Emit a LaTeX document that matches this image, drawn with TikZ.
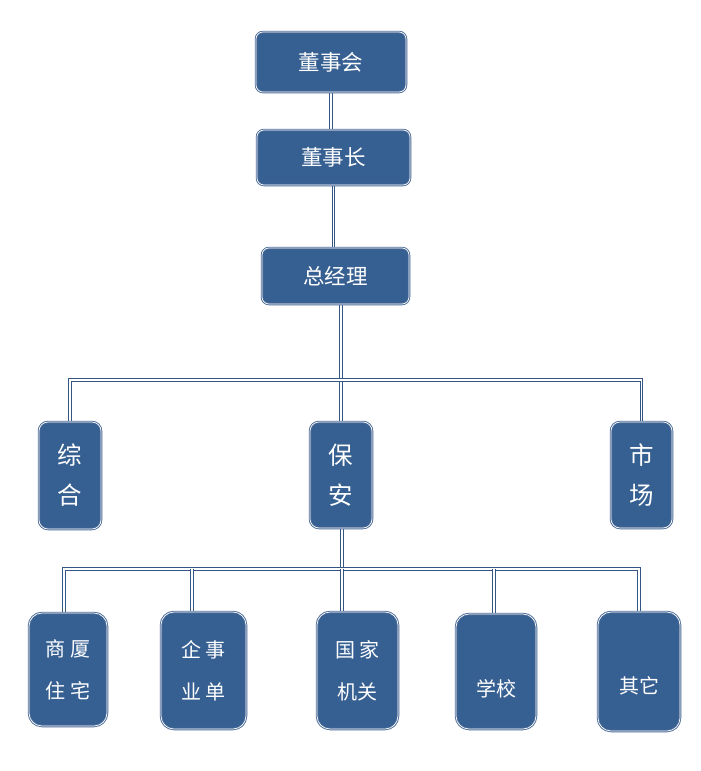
\documentclass[tikz,border=0pt]{standalone}
\usepackage{fontspec}
\newfontfamily\cjk{Noto Sans CJK SC}
\usetikzlibrary{backgrounds}
\definecolor{boxfill}{RGB}{55, 96, 146}
\definecolor{boxedge}{RGB}{72, 105, 150}
\definecolor{linkblue}{RGB}{52, 86, 133}

\begin{document}
\begin{tikzpicture}[x=1pt, y=-1pt,
  box/.style={draw=boxedge, double=white, double distance=0.7pt, line width=0.9pt,
    fill=boxfill, text=white, align=center, inner sep=0pt},
  topbox/.style={box, rounded corners=7pt, font=\cjk\fontsize{21.5}{24}\selectfont},
  midbox/.style={box, rounded corners=9pt, font=\cjk\fontsize{24.5}{40}\selectfont},
  lowbox/.style={box, rounded corners=13pt, font=\cjk\fontsize{20}{42}\selectfont},
  link/.style={draw=linkblue, double=white, double distance=1.7pt, line width=1.1pt}]

  \useasboundingbox (0, 0) rectangle (701, 771);

  % top chain
  \node[topbox, minimum width=150pt, minimum height=60pt] (dsh) at (331, 62) {董事会};
  \node[topbox, minimum width=153pt, minimum height=55pt] (dsz) at (333.5, 157.5) {董事长};
  \node[topbox, minimum width=147pt, minimum height=56pt] (zjl) at (335.5, 276) {总经理};

  % departments
  \node[midbox, minimum width=62pt, minimum height=107pt] (zh) at (70, 475.5) {综\\合};
  \node[midbox, minimum width=62pt, minimum height=106pt] (ba) at (341, 475) {保\\安};
  \node[midbox, minimum width=61pt, minimum height=106pt] (sc) at (641.5, 475) {市\\场};

  % clients of 保安
  \node[lowbox, minimum width=78pt, minimum height=113pt] (sx) at (68, 669.5) {商 厦\\住 宅};
  \node[lowbox, minimum width=85pt, minimum height=117pt] (qs) at (203.5, 670.5) {企 事\\业 单};
  \node[lowbox, minimum width=81pt, minimum height=117pt] (gj) at (357.5, 670.5) {国 家\\机关};
  \node[lowbox, minimum width=80pt, minimum height=115pt] (xx) at (496, 671.5) {\\[10pt]学校};
  \node[lowbox, minimum width=82pt, minimum height=119pt] (qt) at (639, 671.5) {\\[4pt]其它};

  \coordinate (busa) at (341, 380);
  \coordinate (d1) at (64, 569);
  \coordinate (d2) at (192, 569);
  \coordinate (d3) at (342, 569);
  \coordinate (d4) at (494, 569);
  \coordinate (d5) at (639, 569);

  \begin{scope}[on background layer]
    \draw[link] (dsh.south) -- (dsh.south |- dsz.north);
    \draw[link] (dsz.south) -- (dsz.south |- zjl.north);
    \draw[link] (zjl.south -| busa) -- (ba.north);
    \draw[link] (zh.north) |- (busa) -| (sc.north);

    \draw[link] (ba.south -| d3) -- (d3);
    \draw[link] (d1 |- sx.north) -- (d1) -- (d5) -- (qt.north);
    \draw[link] (d2) -- (d2 |- qs.north);
    \draw[link] (d3) -- (d3 |- gj.north);
    \draw[link] (d4) -- (d4 |- xx.north);
  \end{scope}

\end{tikzpicture}
\end{document}
